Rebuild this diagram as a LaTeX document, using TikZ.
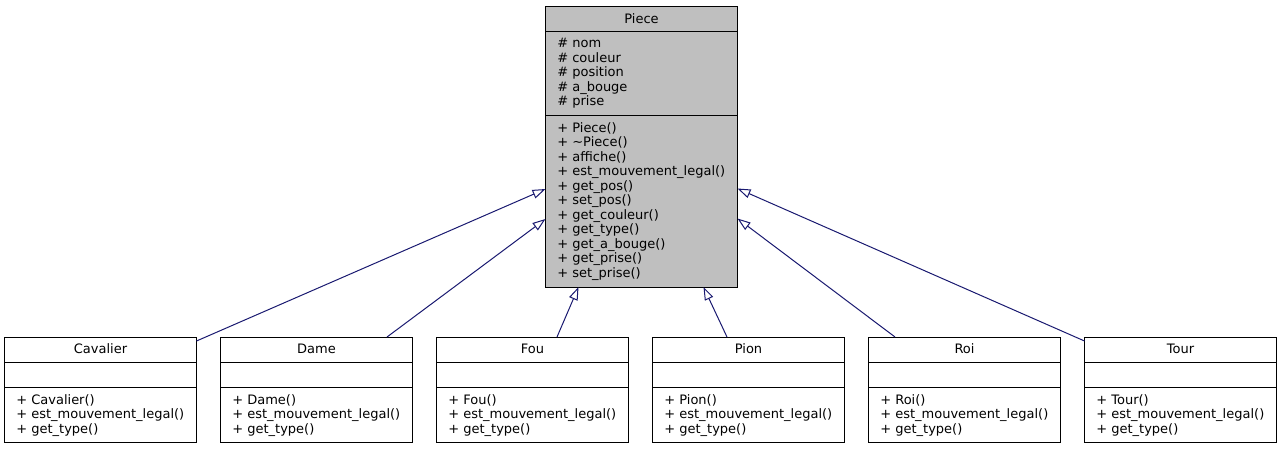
\documentclass[tikz,border=0pt]{standalone}
\usepackage{fontspec}
\setmainfont{DejaVu Sans}
\usetikzlibrary{arrows.meta,calc}
\definecolor{edgeblue}{RGB}{25,25,112}
\definecolor{basefill}{RGB}{191,191,191}

\begin{document}
\begin{tikzpicture}[x=1pt,y=-1pt,
  classbox/.style={draw=black, line width=1pt, minimum width=192pt, inner sep=0pt, outer sep=0pt},
  sepline/.style={draw=black, line width=1pt},
  member/.style={anchor=base west, inner sep=0pt, font=\fontsize{13}{14.5}\selectfont},
  classtitle/.style={anchor=base, inner sep=0pt, font=\fontsize{13}{14.5}\selectfont},
  inherit/.style={draw=edgeblue, line width=1pt, -{Triangle[open, length=13pt, width=9pt]}}
]
\useasboundingbox (0,0) rectangle (1283,448);

% base class
\node[classbox, fill=basefill, minimum height=281pt] (piece) at (641.5,146.5) {};
\draw[sepline] ($(piece.north west)+(0,25)$) -- ($(piece.north east)+(0,25)$);
\draw[sepline] ($(piece.north west)+(0,109)$) -- ($(piece.north east)+(0,109)$);
\node[classtitle] (piece-name) at (641.5,23) {Piece};
\foreach \t [count=\i from 0] in {nom,couleur,position,a\_bouge,prise}
  \node[member] (piece-a\i) at (557.1,{47.5+14.5*\i}) {\# \t};
\foreach \t [count=\i from 0] in {Piece(),\textasciitilde Piece(),affiche(),est\_mouvement\_legal(),get\_pos(),set\_pos(),get\_couleur(),get\_type(),get\_a\_bouge(),get\_prise(),set\_prise()}
  \node[member] (piece-m\i) at (557.1,{132+14.5*\i}) {+ \t};

% derived classes
\foreach \n [count=\i from 0] in {Cavalier,Dame,Fou,Pion,Roi,Tour} {
  \node[classbox, minimum height=105pt] (\n) at ({100.5+216*\i},389.5) {};
  \draw[sepline] ($(\n.north west)+(0,25)$) -- ($(\n.north east)+(0,25)$);
  \draw[sepline] ($(\n.north west)+(0,50)$) -- ($(\n.north east)+(0,50)$);
  \node[classtitle] (\n-name) at ({100.5+216*\i},353) {\n};
  \node[member] (\n-m0) at ({16.1+216*\i},404) {+ \n()};
  \node[member] (\n-m1) at ({16.1+216*\i},418.5) {+ est\_mouvement\_legal()};
  \node[member] (\n-m2) at ({16.1+216*\i},433) {+ get\_type()};
}

% inheritance arrows
\draw[inherit] ($(Cavalier.north east)+(0,4)$) -- ($(piece.north west)+(0,183)$);
\draw[inherit] ($(Dame.north east)+(-25.5,0)$) -- ($(piece.north west)+(0,213)$);
\draw[inherit] ($(Fou.north west)+(120.5,0)$) -- ($(piece.south west)+(33,0)$);
\draw[inherit] ($(Pion.north west)+(74.5,0)$) -- ($(piece.south west)+(158,0)$);
\draw[inherit] ($(Roi.north west)+(26.5,0)$) -- ($(piece.north east)+(0,212.5)$);
\draw[inherit] ($(Tour.north west)+(0,4)$) -- ($(piece.north east)+(0,182.5)$);
\end{tikzpicture}
\end{document}
